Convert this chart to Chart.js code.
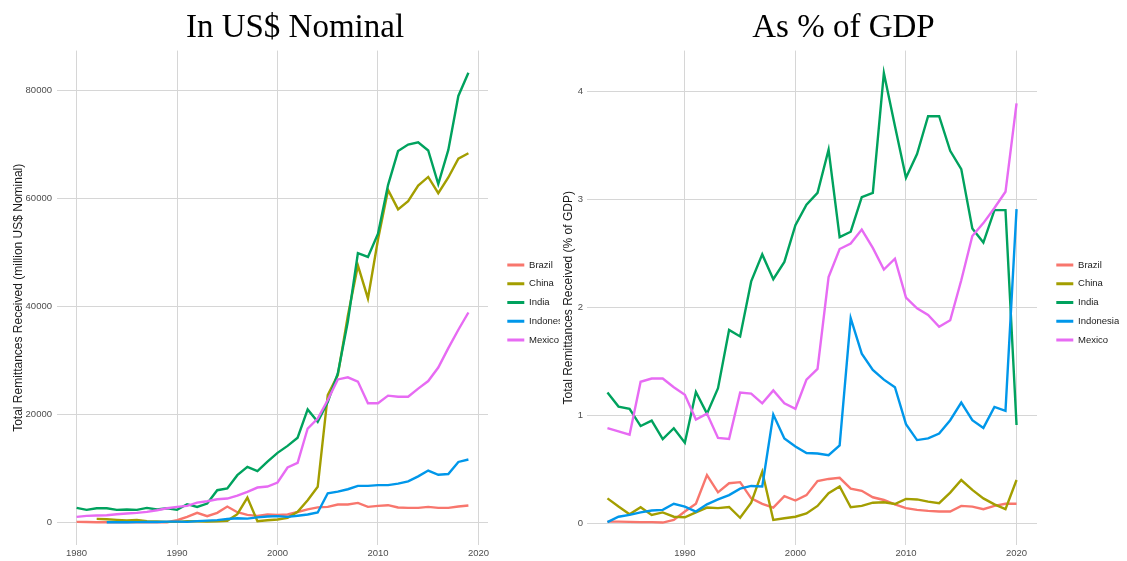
<!DOCTYPE html>
<html>
<head>
<meta charset="utf-8">
<title>Remesas recibidas</title>
<script src="https://cdn.jsdelivr.net/npm/chart.js@4.4.1/dist/chart.umd.min.js"></script>
<style>
  html, body { margin: 0; padding: 0; background: #fff; }
  body { width: 1127px; height: 561px; position: relative; overflow: hidden; }
  #panelNominal { position: absolute; left: 0; top: 0; width: 560px; height: 561px; overflow: hidden; }
  #panelPib { position: absolute; left: 560px; top: 0; width: 567px; height: 561px; }
  canvas { display: block; }
</style>
</head>
<body>
<div id="panelNominal"><canvas id="graficoNominal" width="590" height="561"></canvas></div>
<div id="panelPib"><canvas id="graficoPib" width="567" height="561"></canvas></div>
<script>
const paises = ['Brazil', 'China', 'India', 'Indonesia', 'Mexico']
const colores = ['#F8766D', '#A39E00', '#00A25E', '#0097EA', '#E76BF3']

/** panel izquierdo: millones de US$ nominales, 1980-2019 */
const aniosNominal = [1980, 1981, 1982, 1983, 1984, 1985, 1986, 1987, 1988, 1989,
  1990, 1991, 1992, 1993, 1994, 1995, 1996, 1997, 1998, 1999,
  2000, 2001, 2002, 2003, 2004, 2005, 2006, 2007, 2008, 2009,
  2010, 2011, 2012, 2013, 2014, 2015, 2016, 2017, 2018, 2019]
const brasilNominal = [120, 110, 60, 50, 40, 50, 40, 30, 40, 60,
  430, 1050, 1790, 1170, 1790, 2960, 1910, 1420, 1230, 1480,
  1400, 1500, 1950, 2450, 2800, 2900, 3330, 3330, 3640, 2900,
  3090, 3210, 2780, 2720, 2720, 2900, 2720, 2720, 2960, 3150]
const chinaNominal = [null, null, 680, 620, 490, 370, 490, 250, 190, 120,
  120, 250, 250, 190, 250, 310, 1540, 4630, 250, 430,
  560, 860, 1980, 4140, 6610, 23600, 27300, 38300, 47600, 41500,
  52400, 61600, 58000, 59500, 62400, 64000, 61000, 63900, 67400, 68400]
const indiaNominal = [2720, 2350, 2650, 2650, 2350, 2410, 2350, 2720, 2410, 2650,
  2350, 3400, 2900, 3520, 5990, 6300, 8770, 10310, 9510, 11300,
  12900, 14200, 15700, 20950, 18650, 22300, 27600, 37200, 49900, 49200,
  53500, 62500, 68800, 70000, 70400, 68900, 62700, 69000, 79000, 83300]
const indonesiaNominal = [null, null, null, 40, 50, 60, 70, 90, 100, 170,
  170, 130, 260, 350, 450, 650, 800, 730, 960, 1110,
  1190, 1050, 1260, 1490, 1870, 5420, 5720, 6170, 6790, 6790,
  6920, 6920, 7210, 7610, 8550, 9630, 8850, 8990, 11220, 11670]
const mexicoNominal = [1050, 1230, 1300, 1360, 1540, 1670, 1790, 1980, 2280, 2650,
  2900, 3090, 3700, 3950, 4320, 4440, 5000, 5680, 6480, 6670,
  7410, 10190, 11050, 17410, 19260, 22700, 26500, 26900, 26100, 22100,
  22100, 23500, 23300, 23300, 24800, 26200, 28700, 32300, 35700, 38900]

/** panel derecho: % del PIB, 1983-2020 */
const aniosPib = [1983, 1984, 1985, 1986, 1987, 1988, 1989,
  1990, 1991, 1992, 1993, 1994, 1995, 1996, 1997, 1998, 1999,
  2000, 2001, 2002, 2003, 2004, 2005, 2006, 2007, 2008, 2009,
  2010, 2011, 2012, 2013, 2014, 2015, 2016, 2017, 2018, 2019, 2020]
const brasilPib = [0.015, 0.015, 0.012, 0.01, 0.01, 0.006, 0.03,
  0.108, 0.18, 0.446, 0.286, 0.37, 0.38, 0.23, 0.18, 0.145, 0.25,
  0.21, 0.26, 0.39, 0.41, 0.42, 0.32, 0.3, 0.24, 0.215, 0.175,
  0.14, 0.123, 0.114, 0.108, 0.108, 0.16, 0.154, 0.13, 0.16, 0.18, 0.18]
const chinaPib = [0.23, 0.154, 0.083, 0.148, 0.077, 0.1, 0.06,
  0.055, 0.1, 0.145, 0.14, 0.15, 0.05, 0.19, 0.477, 0.03, 0.046,
  0.06, 0.09, 0.16, 0.277, 0.34, 0.148, 0.16, 0.19, 0.194, 0.178,
  0.225, 0.22, 0.2, 0.185, 0.283, 0.4, 0.308, 0.23, 0.175, 0.13, 0.4]
const indiaPib = [1.21, 1.08, 1.06, 0.9, 0.95, 0.78, 0.88,
  0.745, 1.215, 1.015, 1.25, 1.79, 1.73, 2.24, 2.49, 2.26, 2.42,
  2.76, 2.95, 3.06, 3.46, 2.65, 2.7, 3.02, 3.06, 4.17, 3.68,
  3.2, 3.42, 3.77, 3.77, 3.45, 3.28, 2.73, 2.6, 2.9, 2.9, 0.91]
const indonesiaPib = [0.01, 0.06, 0.077, 0.1, 0.117, 0.123, 0.18,
  0.154, 0.108, 0.175, 0.22, 0.26, 0.32, 0.345, 0.34, 1.006, 0.785,
  0.71, 0.65, 0.646, 0.63, 0.72, 1.9, 1.57, 1.42, 1.33, 1.26,
  0.917, 0.77, 0.785, 0.83, 0.954, 1.117, 0.954, 0.883, 1.077, 1.04, 2.91]
const mexicoPib = [0.88, 0.85, 0.82, 1.31, 1.34, 1.34, 1.26,
  1.19, 0.96, 1.015, 0.79, 0.78, 1.21, 1.2, 1.11, 1.23, 1.11,
  1.06, 1.33, 1.43, 2.28, 2.54, 2.59, 2.72, 2.55, 2.35, 2.45,
  2.09, 1.99, 1.93, 1.82, 1.88, 2.25, 2.66, 2.78, 2.92, 3.07, 3.89]

const ticksAnioNominal = [1980, 1990, 2000, 2010, 2020]
const ticksAnioPib = [1990, 2000, 2010, 2020]
const ticksNominal = [0, 20000, 40000, 60000, 80000]
const ticksPib = [0, 1, 2, 3, 4]

const fuenteSans = '"Liberation Sans", Arial, sans-serif'

/**
 * corre la leyenda un poco a la derecha y abajo
 * (como queda en ggplot) y centra el título en todo el canvas
 */
const correrLeyenda = {
  id: 'correrLeyenda',
  afterLayout(chart, args, opciones) {
    chart.legend.left += opciones.dx
    chart.legend.top += opciones.dy
    chart.legend.bottom += opciones.dy

    const mitadRelleno = chart.options.layout.padding.right / 2
    chart.titleBlock.left += mitadRelleno
    chart.titleBlock.right += mitadRelleno
  }
}

function armarSeries(anios, series) {
  return series.map((valores, i) => ({
    label: paises[i],
    data: valores.map((v, j) => ({ x: anios[j], y: v })),
    borderColor: colores[i],
    backgroundColor: colores[i],
    borderWidth: 2.4,
    pointRadius: 0,
    tension: 0,
    // México arriba de todo, Brasil abajo
    order: series.length - i
  }))
}

function crearGrafico(canvas, cfg) {
  return new Chart(canvas, {
    type: 'line',
    data: { datasets: armarSeries(cfg.anios, cfg.series) },
    plugins: [correrLeyenda],
    options: {
      responsive: false,
      animation: false,
      events: [],
      layout: { padding: { right: 10, left: 0, top: 0, bottom: 0 } },
      plugins: {
        title: {
          display: true,
          text: cfg.titulo,
          color: '#000',
          font: { family: '"Liberation Serif", "DejaVu Serif", serif', size: 33, weight: 'normal' },
          padding: { top: 9, bottom: 2 }
        },
        legend: {
          position: 'right',
          labels: {
            boxWidth: 17,
            boxHeight: 3,
            padding: 9.3,
            color: '#1a1a1a',
            font: { family: fuenteSans, size: 9.5 },
            sort: (a, b) => a.datasetIndex - b.datasetIndex,
            generateLabels: (chart) => Chart.defaults.plugins.legend.labels.generateLabels(chart)
              .map(item => ({ ...item, lineWidth: 0 }))
          }
        },
        tooltip: { enabled: false },
        correrLeyenda: { dx: 10, dy: 22 }
      },
      scales: {
        x: {
          type: 'linear',
          min: cfg.xMin,
          max: cfg.xMax,
          afterBuildTicks: (eje) => { eje.ticks = cfg.ticksX.map(v => ({ value: v })) },
          afterFit: (eje) => { eje.height = 16 },
          grid: { color: '#d6d6d6', lineWidth: 1, drawTicks: false },
          border: { display: false },
          ticks: {
            padding: 3,
            color: '#4d4d4d',
            font: { family: fuenteSans, size: 9.5 },
            maxRotation: 0,
            autoSkip: false,
            callback: (v) => String(v)
          }
        },
        y: {
          min: cfg.yMin,
          max: cfg.yMax,
          afterBuildTicks: (eje) => { eje.ticks = cfg.ticksY.map(v => ({ value: v })) },
          afterFit: (eje) => { eje.width = cfg.anchoEjeY },
          grid: { color: '#d6d6d6', lineWidth: 1, drawTicks: false },
          border: { display: false },
          ticks: {
            padding: cfg.separacionTicksY,
            color: '#4d4d4d',
            font: { family: fuenteSans, size: 9.5 },
            callback: (v) => String(v)
          },
          title: {
            display: true,
            text: cfg.tituloY,
            color: '#1a1a1a',
            font: { family: fuenteSans, size: 12 },
            padding: { top: cfg.margenTituloY, bottom: 0 }
          }
        }
      }
    }
  })
}

/** deja el borde derecho del área del gráfico donde corresponde */
function ajustarDerecha(chart, derecha) {
  const delta = chart.chartArea.right - derecha
  chart.options.layout.padding.right += delta
  chart.update()
}

document.addEventListener('DOMContentLoaded', () => {
  const nominal = crearGrafico(document.getElementById('graficoNominal'), {
    titulo: 'In US$ Nominal',
    tituloY: 'Total Remittances Received (million US$ Nominal)',
    anios: aniosNominal,
    series: [brasilNominal, chinaNominal, indiaNominal, indonesiaNominal, mexicoNominal],
    xMin: 1978.05, xMax: 2020.95,
    yMin: -4160, yMax: 87400,
    ticksX: ticksAnioNominal,
    ticksY: ticksNominal,
    anchoEjeY: 57,
    separacionTicksY: 5,
    margenTituloY: 11
  })
  ajustarDerecha(nominal, 488)

  const pib = crearGrafico(document.getElementById('graficoPib'), {
    titulo: 'As % of GDP',
    tituloY: 'Total Remittances Received (% of GDP)',
    anios: aniosPib,
    series: [brasilPib, chinaPib, indiaPib, indonesiaPib, mexicoPib],
    xMin: 1981.15, xMax: 2021.85,
    yMin: -0.202, yMax: 4.378,
    ticksX: ticksAnioPib,
    ticksY: ticksPib,
    anchoEjeY: 27,
    separacionTicksY: 4,
    margenTituloY: 1
  })
  ajustarDerecha(pib, 477)
})
</script>
</body>
</html>
